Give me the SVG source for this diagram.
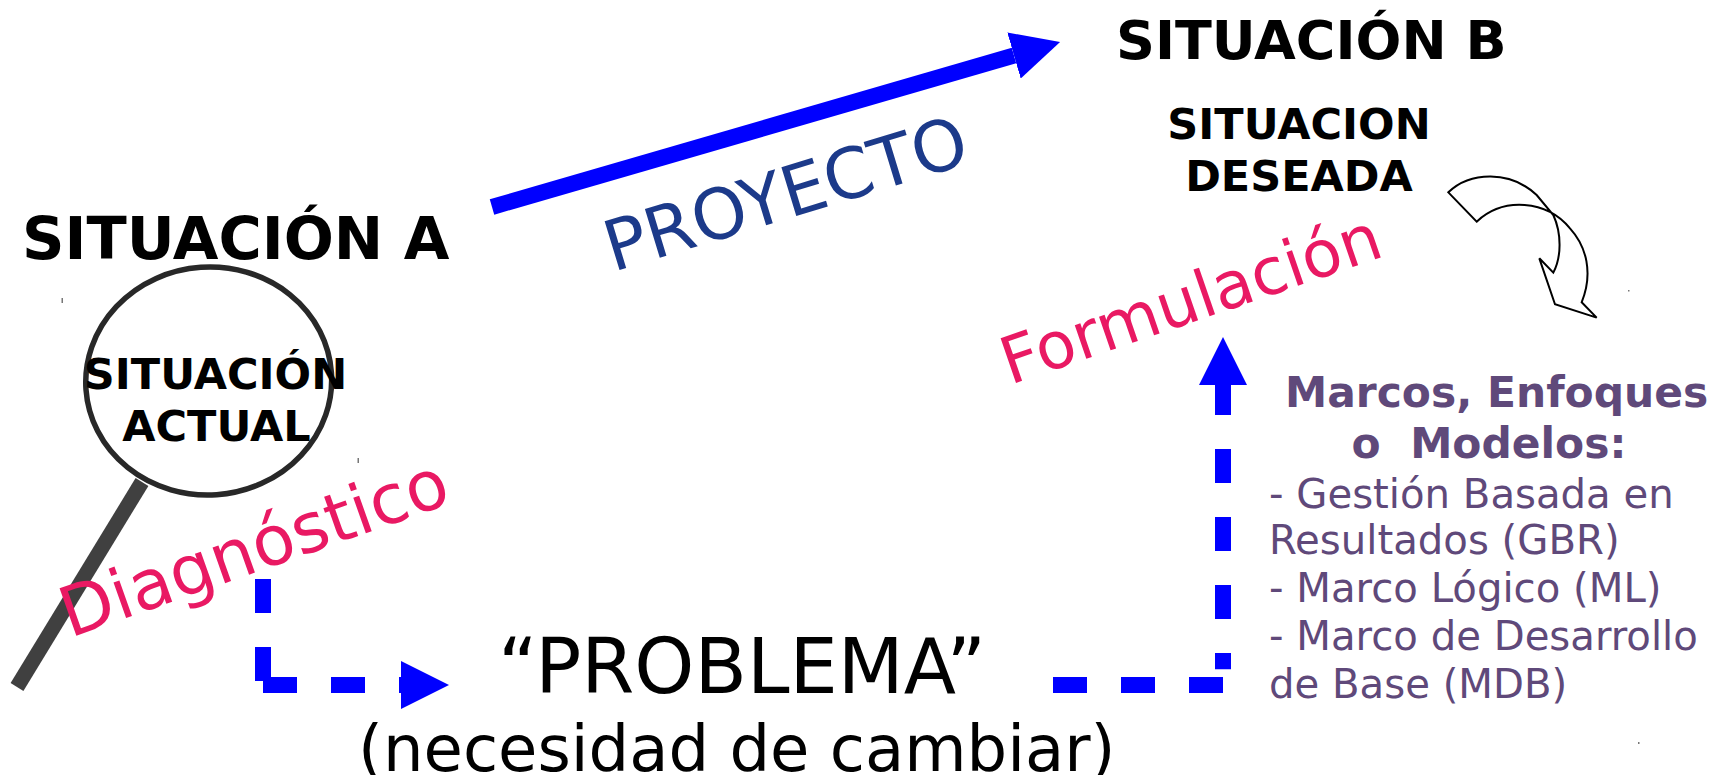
<svg xmlns="http://www.w3.org/2000/svg" width="1720" height="775" viewBox="0 0 1720 775">
<style>
text{font-family:"DejaVu Sans","Liberation Sans",sans-serif;white-space:pre}
.b{font-weight:bold;fill:#000}
.m{text-anchor:middle}
.pink{fill:#e91963}
.pur{fill:#5f497a;font-size:40.200px}
.purb{fill:#5f497a;font-size:42.400px;font-weight:bold}
.dash{fill:none;stroke:#00f;stroke-width:16;stroke-dasharray:34 34}
.solid{fill:none;stroke:#00f;stroke-width:16}
</style>
<defs>
<marker id="head" markerUnits="userSpaceOnUse" markerWidth="48" markerHeight="48" refX="0" refY="24" orient="auto" viewBox="0 0 48 48"><path d="M0 0L48 24L0 48Z" fill="#00f"/></marker>
</defs>
<rect width="1720" height="775" fill="#fff"/>
<g id="connectors">
<line class="solid" x1="492" y1="207" x2="1014" y2="55.500" marker-end="url(#head)"/>
<path class="dash" d="M263 579V681"/>
<path class="dash" d="M263 685H401" marker-end="url(#head)"/>
<path class="dash" d="M1053 685H1223"/>
<path class="dash" d="M1223 669.300V385" stroke-dashoffset="17.700" marker-end="url(#head)"/>
</g>
<g id="situacion-a"><text class="b" x="22" y="259" font-size="59">SITUACIÓN A</text></g>
<g id="lupa">
<ellipse cx="208.700" cy="381" rx="123" ry="114" transform="rotate(-4 208.700 381)" fill="none" stroke="#282828" stroke-width="5.500"/>
<line x1="142" y1="482" x2="17" y2="687" stroke="#404040" stroke-width="15"/>
<text class="b m" x="215.500" y="389" font-size="43">SITUACIÓN</text>
<text class="b m" x="216.500" y="441" font-size="43">ACTUAL</text>
</g>
<g id="situacion-b">
<text class="b" x="1116" y="59" font-size="54">SITUACIÓN B</text>
<text class="b m" x="1299" y="139" font-size="43">SITUACION</text>
<text class="b m" x="1299" y="191" font-size="43">DESEADA</text>
</g>
<g id="flecha-curva"><path transform="translate(1420 150) scale(.3333)" d="M85 127C150 65 270 60 350 135L400 195C425 250 425 320 400 368L358 325L405 463L530 503L485 457C520 370 500 290 450 235C380 150 250 140 170 215Z" fill="none" stroke="#000" stroke-width="6"/></g>
<g id="proyecto"><text x="0" y="0" font-size="70" fill="#1c3a8a" transform="translate(613 272) rotate(-17)">PROYECTO</text></g>
<g id="diagnostico"><text x="0" y="0" font-size="69" class="pink" transform="translate(70 638) rotate(-19.500)">Diagnóstico</text></g>
<g id="formulacion"><text x="0" y="0" font-size="65" class="pink" transform="translate(1010 385) rotate(-19)">Formulación</text></g>
<g id="problema">
<text x="498" y="693" font-size="76.400" fill="#000">“PROBLEMA”</text>
<text x="358" y="771" font-size="64" fill="#000">(necesidad de cambiar)</text>
</g>
<g id="marcos">
<text class="purb" x="1285" y="407">Marcos, Enfoques</text>
<text class="purb m" x="1489" y="458">o  Modelos:</text>
<text class="pur" x="1269" y="508">- Gestión Basada en</text>
<text class="pur" x="1269" y="554">Resultados (GBR)</text>
<text class="pur" x="1269" y="602">- Marco Lógico (ML)</text>
<text class="pur" x="1269" y="650">- Marco de Desarrollo</text>
<text class="pur" x="1269" y="698">de Base (MDB)</text>
</g>
<g id="marcas" fill="#777">
<rect x="61.500" y="298" width="1.500" height="5"/><rect x="357.500" y="458" width="1.500" height="5"/><rect x="1628" y="290" width="1.500" height="1.500"/><rect x="1638" y="742" width="1.500" height="2"/>
</g>
</svg>
